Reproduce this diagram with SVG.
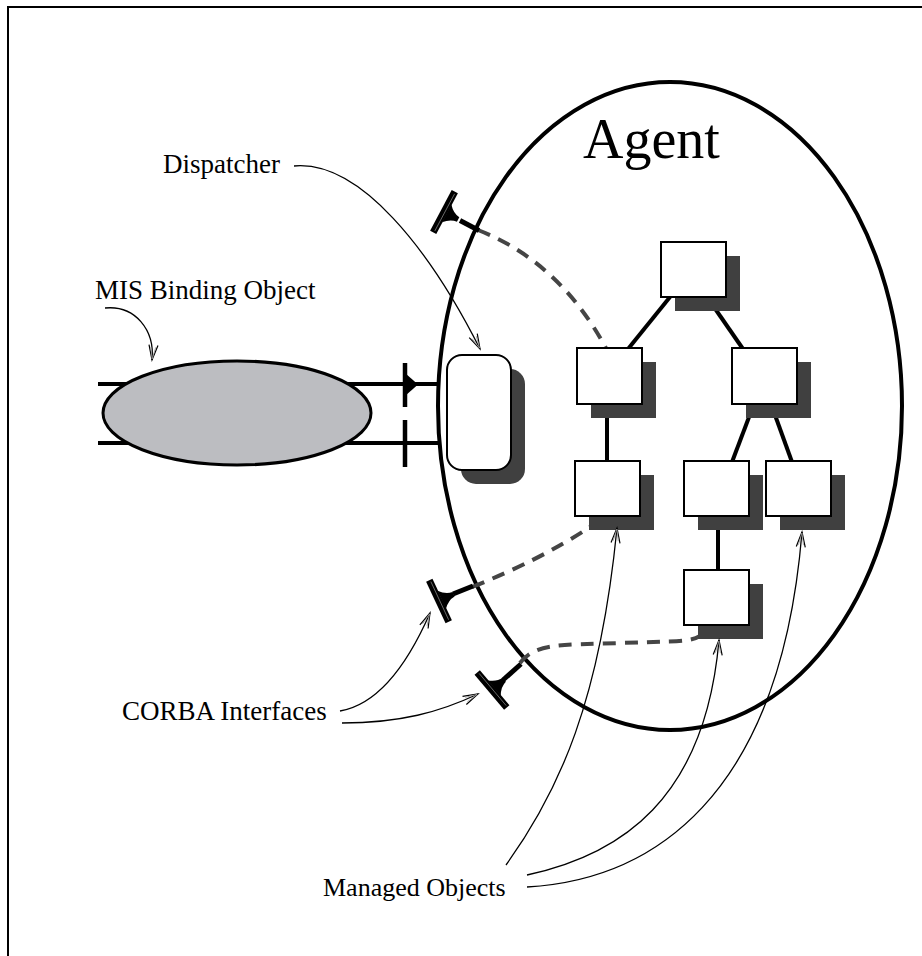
<svg xmlns="http://www.w3.org/2000/svg" width="922" height="956" viewBox="0 0 922 956">
  <style>
    .label { font-family: "Liberation Serif", "Times New Roman", serif; font-size: 27px; fill: #000; }
    .title { font-family: "Liberation Serif", "Times New Roman", serif; font-size: 56px; fill: #000; }
    .frame { stroke: #000; stroke-width: 2; fill: none; }
    .pointer { stroke: #000; stroke-width: 1.3; fill: none; marker-end: url(#openArrow); }
    .link { stroke: #000; stroke-width: 4; fill: none; }
    .dashed { stroke: #454545; stroke-width: 4; fill: none; stroke-dasharray: 13 9; }
    .mo { fill: #fff; stroke: #000; stroke-width: 2; }
    .shadow { fill: #404040; }
    .bind { stroke: #000; stroke-width: 4; fill: none; }
  </style>
  <defs>
    <marker id="openArrow" viewBox="-16 -6 18 12" refX="0" refY="0" markerWidth="18" markerHeight="12" markerUnits="userSpaceOnUse" orient="auto">
      <path d="M -15 -4.5 L 0 0 L -15 4.5" fill="none" stroke="#000" stroke-width="1.2"/>
      <path d="M -13 -2.5 L -1 0 L -13 2.5" fill="none" stroke="#999" stroke-width="0.8"/>
    </marker>
    <!-- CORBA interface symbol: bar along local y, stem along local x -->
    <g id="iface">
      <rect x="-3.5" y="-23" width="7" height="46" fill="#000"/>
      <line x1="0.8" y1="-21" x2="0.8" y2="21" stroke="#888" stroke-width="0.7"/>
      <path d="M 3 -10 Q 9 -3 16 -2.5 L 16 2.5 Q 9 3 3 10 Z" fill="#000"/>
    </g>
  </defs>

  <rect width="922" height="956" fill="#fff"/>

  <!-- page frame -->
  <g id="frame">
    <line class="frame" x1="8" y1="7" x2="922" y2="7"/>
    <line class="frame" x1="8" y1="6" x2="8" y2="956"/>
  </g>

  <!-- binding lines -->
  <g id="binding-lines">
    <line class="bind" x1="98" y1="384" x2="440" y2="384"/>
    <line class="bind" x1="98" y1="443" x2="440" y2="443"/>
    <line x1="405" y1="363" x2="405" y2="407" stroke="#000" stroke-width="4.5"/>
    <line x1="405" y1="420" x2="405" y2="467" stroke="#000" stroke-width="4.5"/>
    <path d="M 405 373 L 418 384.5 L 405 396 Z" fill="#000"/>
  </g>

  <!-- MIS binding object -->
  <g id="mis-binding">
    <ellipse cx="237" cy="413" rx="134" ry="52" fill="#bcbdc1" stroke="#000" stroke-width="3"/>
  </g>

  <!-- Agent -->
  <g id="agent">
    <ellipse cx="670" cy="406" rx="232" ry="324" fill="none" stroke="#000" stroke-width="4"/>
    <text class="title" x="583" y="158">Agent</text>
  </g>

  <!-- connectors -->
  <g id="connectors">
    <!-- containment tree -->
    <line class="link" x1="670" y1="297" x2="628" y2="349"/>
    <line class="link" x1="707" y1="297" x2="743" y2="349"/>
    <line class="link" x1="607" y1="404" x2="607" y2="462"/>
    <line class="link" x1="754" y1="404" x2="732" y2="462"/>
    <line class="link" x1="771" y1="404" x2="792" y2="462"/>
    <line class="link" x1="718" y1="516" x2="718" y2="571"/>
    <!-- interface bindings -->
    <path class="dashed" d="M 478 230 Q 560 262 607 350"/>
    <path class="dashed" d="M 472 587 Q 540 560 590 527"/>
    <path class="dashed" d="M 520 663 C 535 643 560 645 620 643 S 690 642 700 636"/>
  </g>

  <!-- dispatcher -->
  <g id="dispatcher">
    <rect class="shadow" x="461" y="369" width="64" height="115" rx="15"/>
    <rect x="447" y="355" width="64" height="115" rx="15" fill="#fff" stroke="#000" stroke-width="2"/>
  </g>

  <!-- CORBA interfaces -->
  <g id="iface-1">
    <use href="#iface" transform="translate(444 212) rotate(28)"/>
    <line x1="460" y1="220.5" x2="479" y2="230.5" stroke="#000" stroke-width="5"/>
  </g>
  <g id="iface-2">
    <use href="#iface" transform="translate(439 601) rotate(-25)"/>
    <line x1="453" y1="594" x2="473" y2="586" stroke="#000" stroke-width="5"/>
  </g>
  <g id="iface-3">
    <use href="#iface" transform="translate(492 690) rotate(-40)"/>
    <line x1="503" y1="680" x2="521" y2="664" stroke="#000" stroke-width="5"/>
  </g>

  <!-- managed objects -->
  <g id="mo-root">
    <rect class="shadow" x="675" y="256" width="65" height="55"/>
    <rect class="mo" x="661" y="242" width="65" height="55"/>
  </g>
  <g id="mo-left">
    <rect class="shadow" x="591" y="362" width="65" height="56"/>
    <rect class="mo" x="577" y="348" width="65" height="56"/>
  </g>
  <g id="mo-right">
    <rect class="shadow" x="746" y="362" width="65" height="56"/>
    <rect class="mo" x="732" y="348" width="65" height="56"/>
  </g>
  <g id="mo-left-child">
    <rect class="shadow" x="589" y="475" width="65" height="55"/>
    <rect class="mo" x="575" y="461" width="65" height="55"/>
  </g>
  <g id="mo-mid-child">
    <rect class="shadow" x="698" y="475" width="65" height="55"/>
    <rect class="mo" x="684" y="461" width="65" height="55"/>
  </g>
  <g id="mo-right-child">
    <rect class="shadow" x="780" y="475" width="65" height="55"/>
    <rect class="mo" x="766" y="461" width="65" height="55"/>
  </g>
  <g id="mo-leaf">
    <rect class="shadow" x="698" y="584" width="65" height="55"/>
    <rect class="mo" x="684" y="570" width="65" height="55"/>
  </g>

  <!-- labels and pointers -->
  <g id="labels">
    <text class="label" x="163" y="173">Dispatcher</text>
    <path class="pointer" d="M 294 166 C 360 160 430 250 480 349"/>

    <text class="label" x="95" y="299">MIS Binding Object</text>
    <path class="pointer" d="M 105 308 C 135 305 155 330 152 360"/>

    <text class="label" x="122" y="720">CORBA Interfaces</text>
    <path class="pointer" d="M 340 711 C 375 705 405 670 430 613"/>
    <path class="pointer" d="M 342 723 C 400 723 440 712 478 694"/>

    <text class="label" x="323" y="896" style="font-size:26px">Managed Objects</text>
    <path class="pointer" d="M 506 865 C 560 790 600 700 617 528"/>
    <path class="pointer" d="M 527 875 C 620 855 705 800 719 640"/>
    <path class="pointer" d="M 527 887 C 650 880 780 800 802 532"/>
  </g>
</svg>
